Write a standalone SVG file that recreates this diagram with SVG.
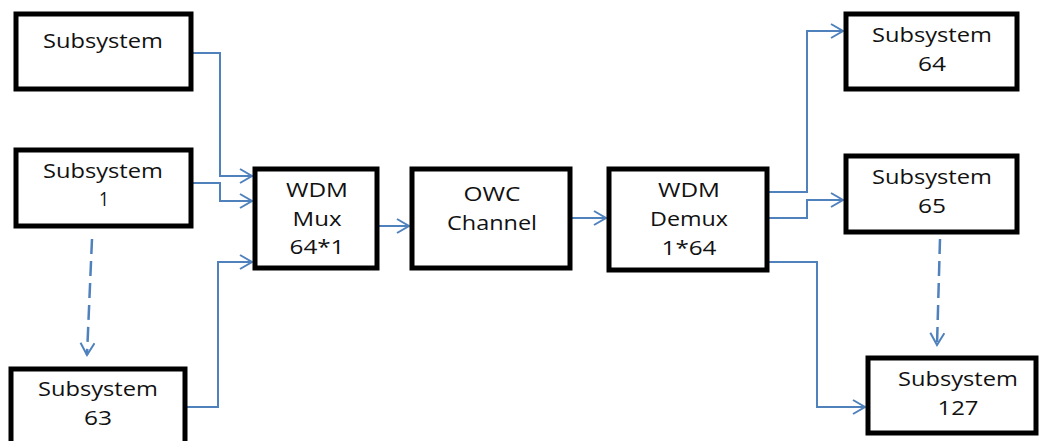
<svg xmlns="http://www.w3.org/2000/svg" width="1041" height="441" viewBox="0 0 1041 441">
<defs>
<marker id="ah" markerUnits="userSpaceOnUse" markerWidth="16" markerHeight="16" refX="13" refY="8" orient="auto">
<path d="M1,1 L13,8 L1,15" fill="none" stroke="#4F81BD" stroke-width="2"/>
</marker>
<style>
.box{fill:#fff;stroke:#000;stroke-width:5}
.t{font-family:"Open Sans","Liberation Sans",sans-serif;font-size:20px;fill:#111;text-anchor:middle}
.c{fill:none;stroke:#4F81BD;stroke-width:2;marker-end:url(#ah)}
.d{stroke-dasharray:15,7;stroke-width:2.5}
</style>
</defs>
<rect width="1041" height="441" fill="#fff"/>
<g id="connectors">
<path class="c" d="M191,53 H220 V176 H252"/>
<path class="c" d="M191,183 H220 V201 H252"/>
<path class="c" d="M185,407 H218 V262 H252"/>
<path class="c" d="M379,226 H409"/>
<path class="c" d="M572,218 H606"/>
<path class="c" d="M769,192 H807 V31 H843"/>
<path class="c" d="M769,218 H807 V200 H843"/>
<path class="c" d="M769,262 H817 V407 H865"/>
<path class="c d" d="M92,239 L87,355"/>
<path class="c d" d="M940,239 L937,345"/>
</g>
<g id="sub0">
<rect class="box" x="16" y="14" width="175" height="75"/>
<text class="t" x="103" y="48" textLength="120" lengthAdjust="spacingAndGlyphs">Subsystem</text>
</g>
<g id="sub1">
<rect class="box" x="16" y="150" width="175" height="76"/>
<text class="t" x="103" y="178" textLength="120" lengthAdjust="spacingAndGlyphs">Subsystem</text>
<text class="t" x="104" y="206" textLength="10" lengthAdjust="spacingAndGlyphs">1</text>
</g>
<g id="sub63">
<rect class="box" x="11" y="369" width="174" height="80"/>
<text class="t" x="98" y="396" textLength="120" lengthAdjust="spacingAndGlyphs">Subsystem</text>
<text class="t" x="98" y="425" textLength="28" lengthAdjust="spacingAndGlyphs">63</text>
</g>
<g id="mux">
<rect class="box" x="255" y="169" width="122" height="99"/>
<text class="t" x="317" y="197" textLength="62" lengthAdjust="spacingAndGlyphs">WDM</text>
<text class="t" x="317" y="226" textLength="49" lengthAdjust="spacingAndGlyphs">Mux</text>
<text class="t" x="317" y="254" textLength="55" lengthAdjust="spacingAndGlyphs">64*1</text>
</g>
<g id="owc">
<rect class="box" x="412" y="169" width="158" height="99"/>
<text class="t" x="492" y="201" textLength="57" lengthAdjust="spacingAndGlyphs">OWC</text>
<text class="t" x="492" y="230" textLength="90" lengthAdjust="spacingAndGlyphs">Channel</text>
</g>
<g id="demux">
<rect class="box" x="609" y="169" width="158" height="101"/>
<text class="t" x="689" y="197" textLength="62" lengthAdjust="spacingAndGlyphs">WDM</text>
<text class="t" x="689" y="226" textLength="78" lengthAdjust="spacingAndGlyphs">Demux</text>
<text class="t" x="689" y="255" textLength="55" lengthAdjust="spacingAndGlyphs">1*64</text>
</g>
<g id="sub64">
<rect class="box" x="846" y="14" width="171" height="75"/>
<text class="t" x="932" y="42" textLength="120" lengthAdjust="spacingAndGlyphs">Subsystem</text>
<text class="t" x="932" y="71" textLength="28" lengthAdjust="spacingAndGlyphs">64</text>
</g>
<g id="sub65">
<rect class="box" x="846" y="156" width="171" height="76"/>
<text class="t" x="932" y="184" textLength="120" lengthAdjust="spacingAndGlyphs">Subsystem</text>
<text class="t" x="932" y="213" textLength="28" lengthAdjust="spacingAndGlyphs">65</text>
</g>
<g id="sub127">
<rect class="box" x="868" y="358" width="168" height="75"/>
<text class="t" x="958" y="386" textLength="120" lengthAdjust="spacingAndGlyphs">Subsystem</text>
<text class="t" x="958" y="415" textLength="41" lengthAdjust="spacingAndGlyphs">127</text>
</g>
</svg>
